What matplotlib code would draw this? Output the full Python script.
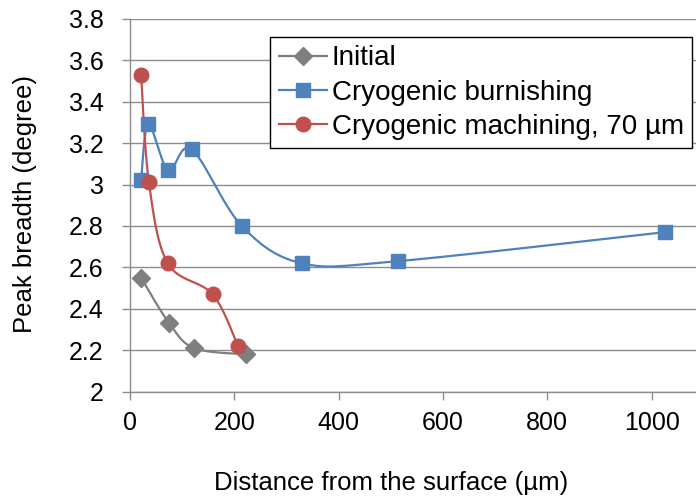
import numpy as np
import matplotlib
matplotlib.use('Agg')
import matplotlib.pyplot as plt

plt.rcParams['font.family'] = ['Liberation Sans', 'DejaVu Sans']

# data
initialX = [21, 75, 123, 223]
initialY = [2.55, 2.33, 2.21, 2.18]

burnX = [21, 35, 73, 118, 214, 329, 513, 1025]
burnY = [3.02, 3.29, 3.07, 3.17, 2.80, 2.62, 2.63, 2.77]

machX = [21, 36, 72, 158, 207]
machY = [3.53, 3.01, 2.62, 2.47, 2.22]

labels = ['Initial', 'Cryogenic burnishing', 'Cryogenic machining, 70 µm']
colors = ['#7F7F7F', '#4F81BD', '#C0504D']
markers = ['D', 's', 'o']
markerSizes = [9.5, 10, 10.5]


def smoothLine(xs, ys, steps=30):
    # Excel-like smoothed line (Catmull-Rom Bezier segments)
    px = np.array(xs, float)
    py = np.array(ys, float)
    n = len(px)
    outX, outY = [px[0]], [py[0]]
    t = np.linspace(0, 1, steps)[1:]
    for i in range(n - 1):
        p0 = (px[max(i - 1, 0)], py[max(i - 1, 0)])
        p1 = (px[i], py[i])
        p2 = (px[i + 1], py[i + 1])
        p3 = (px[min(i + 2, n - 1)], py[min(i + 2, n - 1)])
        c1 = (p1[0] + (p2[0] - p0[0]) / 6, p1[1] + (p2[1] - p0[1]) / 6)
        c2 = (p2[0] - (p3[0] - p1[0]) / 6, p2[1] - (p3[1] - p1[1]) / 6)
        for k in range(2):
            b = ((1 - t) ** 3 * p1[k] + 3 * (1 - t) ** 2 * t * c1[k]
                 + 3 * (1 - t) * t ** 2 * c2[k] + t ** 3 * p2[k])
            (outX if k == 0 else outY).extend(b)
    return outX, outY


fig = plt.figure(figsize=(6.96, 4.97), dpi=100)
ax = fig.add_axes([0.187, 0.212, 0.813, 0.750])

series = [(initialX, initialY), (burnX, burnY), (machX, machY)]
for (xs, ys), lab, col, mk, ms in zip(series, labels, colors, markers, markerSizes):
    sx, sy = smoothLine(xs, ys)
    ax.plot(sx, sy, color=col, lw=1.6, zorder=3)
    ax.plot(xs, ys, linestyle='none', marker=mk, ms=ms, color=col, zorder=4)
    ax.plot([], [], color=col, lw=1.6, marker=mk, ms=ms, label=lab)

ax.set_xlim(0, 1085)
ax.set_ylim(2, 3.8)
ax.set_xticks([0, 200, 400, 600, 800, 1000])
ax.set_yticks(np.arange(2, 3.81, 0.2))
ax.set_yticklabels(['2', '2.2', '2.4', '2.6', '2.8', '3', '3.2', '3.4', '3.6', '3.8'])

ax.grid(axis='y', color='#8C8C8C', lw=1.0)
ax.set_axisbelow(True)
for s in ['top', 'right']:
    ax.spines[s].set_visible(False)
for s in ['left', 'bottom']:
    ax.spines[s].set_color('#8C8C8C')
    ax.spines[s].set_linewidth(1.0)
ax.tick_params(colors='#8C8C8C', labelcolor='black', labelsize=18,
               length=6, width=1.0)
ax.tick_params(axis='y', pad=13)
ax.tick_params(axis='x', pad=8)

fig.text(391 / 696, 1 - 490 / 497, 'Distance from the surface (µm)',
         fontsize=18.5, ha='center', va='baseline')
fig.text(25 / 696, 1 - 204 / 497, 'Peak breadth (degree)',
         fontsize=18.5, ha='center', va='center', rotation=90)

leg = ax.legend(loc='upper right', bbox_to_anchor=(692 / 696, 1 - 37 / 497),
                bbox_transform=fig.transFigure, fontsize=20,
                frameon=True, fancybox=False, edgecolor='black',
                handlelength=1.75, handletextpad=0.15, borderpad=0.3,
                labelspacing=0.3, borderaxespad=0)
leg.get_frame().set_linewidth(1.0)
leg.get_frame().set_alpha(1.0)

fig.savefig('out.png', dpi=100)
